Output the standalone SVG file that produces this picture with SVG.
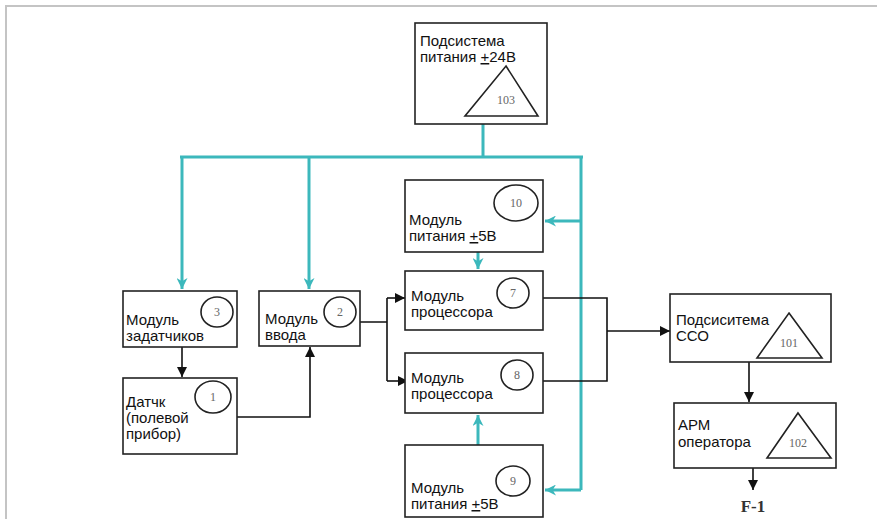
<svg xmlns="http://www.w3.org/2000/svg" width="877" height="519" viewBox="0 0 877 519">
<defs>
<marker id="ab" viewBox="0 0 10 10" refX="10" refY="5" markerWidth="10" markerHeight="10" markerUnits="userSpaceOnUse" orient="auto"><path d="M0,0 L10,5 L0,10 Z" fill="#111"/></marker>
<marker id="at" viewBox="0 0 10 10" refX="10" refY="5" markerWidth="11" markerHeight="11" markerUnits="userSpaceOnUse" orient="auto"><path d="M0,0 L10,5 L0,10 L3,5 Z" fill="#3cb8bc"/></marker>
</defs>
<style>
.box{fill:#fff;stroke:#222;stroke-width:1.6}
.mark{fill:none;stroke:#222;stroke-width:1.6}
.t{font-family:"Liberation Sans",Arial,sans-serif;font-size:15px;fill:#111}
.n{font-family:"Liberation Serif","Times New Roman",serif;font-size:12px;fill:#666;text-anchor:middle}
.bl{fill:none;stroke:#111;stroke-width:1.6}
.tl{fill:none;stroke:#3cb8bc;stroke-width:3}
.u{text-decoration:underline}
.frame{fill:none;stroke:#c4c4c4;stroke-width:2}
</style>
<path class="frame" d="M5,6 H877 M6,6 V519"/>

<g id="connectors">
<path class="tl" d="M483,124 V157 M180,157 H583 M581,157 V490"/>
<path class="tl" d="M182,157 V289" marker-end="url(#at)"/>
<path class="tl" d="M309,157 V289" marker-end="url(#at)"/>
<path class="tl" d="M581,221 H545" marker-end="url(#at)"/>
<path class="tl" d="M581,490 H545" marker-end="url(#at)"/>
<path class="tl" d="M478,252 V269" marker-end="url(#at)"/>
<path class="tl" d="M478,445 V415" marker-end="url(#at)"/>
<path class="bl" d="M182,347 V377" marker-end="url(#ab)"/>
<path class="bl" d="M237,417 H310 V347" marker-end="url(#ab)"/>
<path class="bl" d="M360,322 H387 M387,298 V381"/>
<path class="bl" d="M387,298 H405" marker-end="url(#ab)"/>
<path class="bl" d="M387,381 H408" marker-end="url(#ab)"/>
<path class="bl" d="M543,298 H607 V381 H543"/>
<path class="bl" d="M607,331 H670" marker-end="url(#ab)"/>
<path class="bl" d="M749,362 V402" marker-end="url(#ab)"/>
<path class="bl" d="M753,468 V490" marker-end="url(#ab)"/>
</g>

<g id="n103">
<rect class="box" x="415" y="23" width="132" height="101"/>
<text class="t" x="420" y="46">Подсистема</text>
<text class="t" x="420" y="62">питания <tspan class="u">+</tspan>24В</text>
<path class="mark" d="M506,66 L538,116 L465,116 Z"/>
<text class="n" x="506" y="104">103</text>
</g>

<g id="n3">
<rect class="box" x="123" y="291" width="114" height="56"/>
<ellipse class="mark" cx="217" cy="312" rx="16" ry="15"/>
<text class="n" x="217" y="316">3</text>
<text class="t" x="126" y="325">Модуль</text>
<text class="t" x="126" y="341">задатчиков</text>
</g>

<g id="n2">
<rect class="box" x="259" y="291" width="101" height="55"/>
<ellipse class="mark" cx="340" cy="312" rx="16" ry="15"/>
<text class="n" x="340" y="316">2</text>
<text class="t" x="265" y="324">Модуль</text>
<text class="t" x="265" y="340">ввода</text>
</g>

<g id="n1">
<rect class="box" x="123" y="378" width="114" height="76"/>
<ellipse class="mark" cx="213" cy="397" rx="18" ry="16"/>
<text class="n" x="213" y="401">1</text>
<text class="t" x="126" y="407">Датчк</text>
<text class="t" x="126" y="423">(полевой</text>
<text class="t" x="126" y="439">прибор)</text>
</g>

<g id="n10">
<rect class="box" x="405" y="180" width="138" height="72"/>
<ellipse class="mark" cx="516" cy="203" rx="22" ry="18"/>
<text class="n" x="516" y="207">10</text>
<text class="t" x="409" y="225">Модуль</text>
<text class="t" x="409" y="241">питания <tspan class="u">+</tspan>5В</text>
</g>

<g id="n7">
<rect class="box" x="405" y="271" width="138" height="59"/>
<ellipse class="mark" cx="513" cy="293" rx="16" ry="15"/>
<text class="n" x="513" y="297">7</text>
<text class="t" x="411" y="301">Модуль</text>
<text class="t" x="411" y="317">процессора</text>
</g>

<g id="n8">
<rect class="box" x="405" y="353" width="138" height="60"/>
<ellipse class="mark" cx="517" cy="375" rx="16" ry="15"/>
<text class="n" x="517" y="379">8</text>
<text class="t" x="411" y="383">Модуль</text>
<text class="t" x="411" y="399">процессора</text>
</g>

<g id="n9">
<rect class="box" x="405" y="445" width="138" height="72"/>
<ellipse class="mark" cx="513" cy="481" rx="17" ry="15"/>
<text class="n" x="513" y="485">9</text>
<text class="t" x="411" y="493">Модуль</text>
<text class="t" x="411" y="509">питания <tspan class="u">+</tspan>5В</text>
</g>

<g id="n101">
<rect class="box" x="670" y="294" width="161" height="68"/>
<path class="mark" d="M789,313 L822,358 L757,358 Z"/>
<text class="n" x="789" y="347">101</text>
<text class="t" x="676" y="325">Подсиситема</text>
<text class="t" x="676" y="341">ССО</text>
</g>

<g id="n102">
<rect class="box" x="674" y="403" width="162" height="65"/>
<path class="mark" d="M798,413 L831,458 L767,458 Z"/>
<text class="n" x="798" y="447">102</text>
<text class="t" x="678" y="430">АРМ</text>
<text class="t" x="678" y="447">оператора</text>
</g>

<text x="753" y="512" text-anchor="middle" font-family="Liberation Serif, Times New Roman, serif" font-size="17" font-weight="bold" fill="#333">F-1</text>
</svg>
